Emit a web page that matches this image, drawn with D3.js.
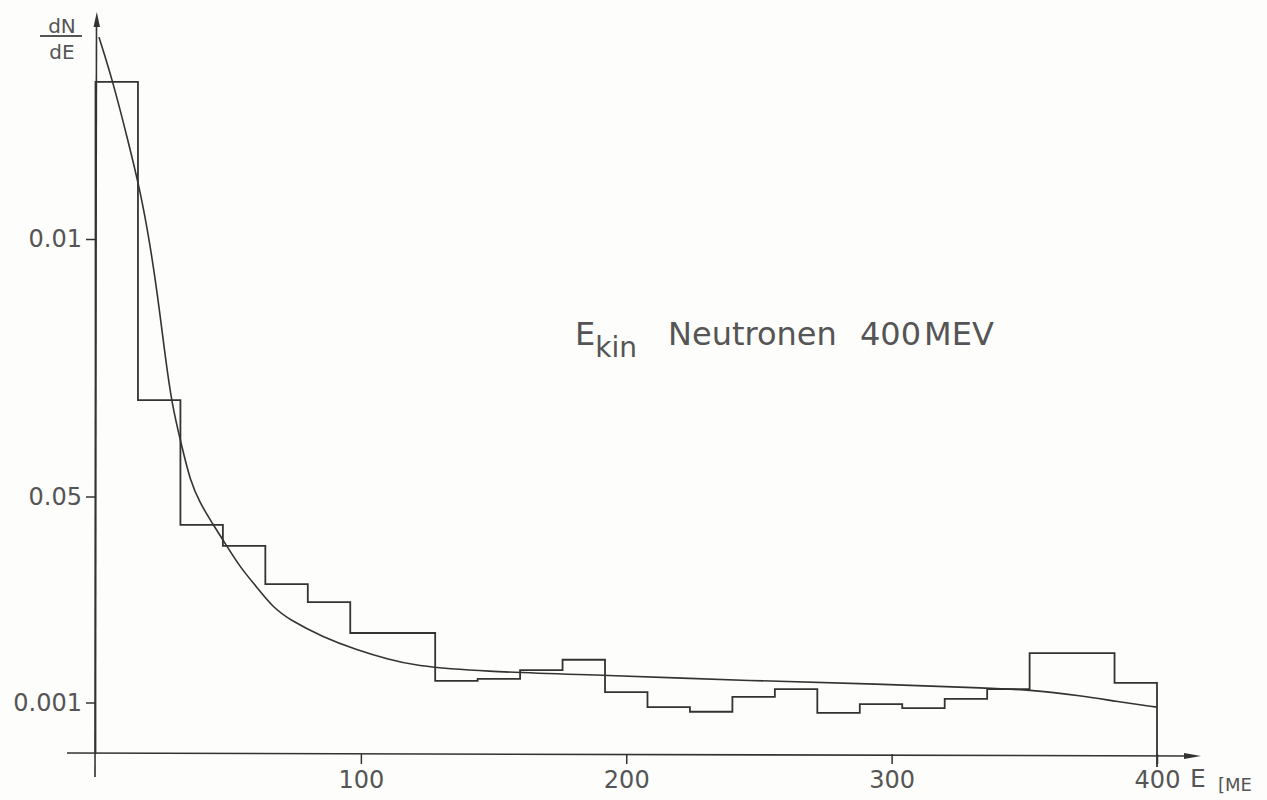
<!DOCTYPE html>
<html>
<head>
<meta charset="utf-8">
<script src="https://cdn.jsdelivr.net/npm/d3@7"></script>
<style>
  html, body { margin: 0; padding: 0; background: #fdfdfc; }
  svg { display: block; }
  text { font-family: "DejaVu Sans", sans-serif; fill: #555555; }
</style>
</head>
<body>
<svg id="chart" width="1267" height="800"></svg>
<script>
// ---- data ----
const binStart = [0,16,32,48,64,80,96,112,128,144,160,176,192,208,224,240,256,272,288,304,320,336,352,368,384];
const binWidth = 16;
const histValues = [0.01305,0.00687,0.00445,0.00404,0.00330,0.00295,0.00235,0.00235,0.00142,0.00146,0.00163,0.00183,0.00120,0.00091,0.00082,0.00111,0.00126,0.00080,0.00097,0.00089,0.00107,0.00126,0.00196,0.00196,0.00138];
const curveE = [1.3,6.6,12.2,16.8,20.5,23.5,26.2,28.8,32.6,35.6,39.4,43.9,48.0,54.4,60.8,66.8,73.3,85.7,98.5,110.9,119.6,144.8,191.9,247.6,295.5,334.3,351.6,371.9,384.7,400];
const curveV = [0.01392,0.01305,0.01192,0.01095,0.00992,0.00887,0.00775,0.00678,0.00596,0.00532,0.00487,0.00449,0.00416,0.00363,0.00324,0.00285,0.00260,0.00227,0.00202,0.00183,0.00172,0.00160,0.00153,0.00142,0.00136,0.00128,0.00125,0.00113,0.00102,0.00091];
const xTicks = [100,200,300,400];
const xTickLabels = ["100","200","300","400"];
const yTicks = [0.01,0.005,0.001];
const yTickLabels = ["0.01","0.05","0.001"];

// ---- scales ----
const x = d3.scaleLinear().domain([0,400]).range([95.5,1157]);
const y = d3.scaleLinear().domain([0,0.01]).range([754,239]);

const svg = d3.select("#chart");
const ink = "#333333";

// axes lines
svg.append("line").attr("x1",96.5).attr("y1",22).attr("x2",95).attr("y2",777)
  .attr("stroke",ink).attr("stroke-width",1.6);
svg.append("path").attr("d","M96.8,12 L93.5,27 L100,27 Z").attr("fill",ink);
svg.append("line").attr("x1",67).attr("y1",y(0)-1).attr("x2",1188).attr("y2",y(0)+2)
  .attr("stroke",ink).attr("stroke-width",1.6);
svg.append("path").attr("d",`M1201,${y(0)+2} L1184,${y(0)-1} L1184,${y(0)+5} Z`).attr("fill",ink);

// x axis ticks
const xAxis = d3.axisBottom(x).tickValues(xTicks).tickSize(10).tickPadding(7)
  .tickFormat((d,i)=>xTickLabels[i]);
const gx = svg.append("g").attr("transform",`translate(0,${y(0)})`).call(xAxis);
gx.select(".domain").remove();
gx.selectAll(".tick line").attr("stroke",ink).attr("stroke-width",1.5);
gx.selectAll(".tick text").attr("font-size",24).attr("fill","#555555").attr("font-family","DejaVu Sans");

svg.append("text").attr("x",1190).attr("y",787).attr("font-size",25).text("E");
svg.append("text").attr("x",1218).attr("y",791).attr("font-size",18).text("[ME");

// y axis ticks
const yAxis = d3.axisLeft(y).tickValues(yTicks).tickSize(10).tickPadding(4)
  .tickFormat((d,i)=>yTickLabels[i]);
const gy = svg.append("g").attr("transform",`translate(96,0)`).call(yAxis);
gy.select(".domain").remove();
gy.selectAll(".tick line").attr("stroke",ink).attr("stroke-width",1.5);
gy.selectAll(".tick text").attr("font-size",24).attr("fill","#555555").attr("font-family","DejaVu Sans");

// y label dN/dE
svg.append("text").attr("x",62).attr("y",33).attr("text-anchor","middle").attr("font-size",20).text("dN");
svg.append("line").attr("x1",40).attr("x2",82).attr("y1",36).attr("y2",36).attr("stroke","#555555").attr("stroke-width",1.8);
svg.append("text").attr("x",62).attr("y",59).attr("text-anchor","middle").attr("font-size",20).text("dE");

// histogram
let d = `M${x(binStart[0])},${y(0)}`;
binStart.forEach((b,i)=>{
  d += ` L${x(b)},${y(histValues[i])} L${x(b+binWidth)},${y(histValues[i])}`;
});
d += ` L${x(400)},${y(0)+13}`;
svg.append("path").attr("d",d).attr("fill","none").attr("stroke",ink).attr("stroke-width",1.8);

// fitted curve
const line = d3.line().x((d)=>x(d[0])).y((d)=>y(d[1])).curve(d3.curveBasis);
svg.append("path").datum(curveE.map((e,i)=>[e,curveV[i]]))
  .attr("d",line).attr("fill","none").attr("stroke",ink).attr("stroke-width",1.6);

// title
const t = svg.append("text").attr("x",575).attr("y",345).attr("font-size",32);
t.append("tspan").text("E");
t.append("tspan").attr("font-size",28).attr("dy",12).text("kin");
t.append("tspan").attr("x",668).attr("dy",-12).text("Neutronen");
t.append("tspan").attr("x",860).text("400");
t.append("tspan").attr("dx",3).text("MEV");
</script>
</body>
</html>
